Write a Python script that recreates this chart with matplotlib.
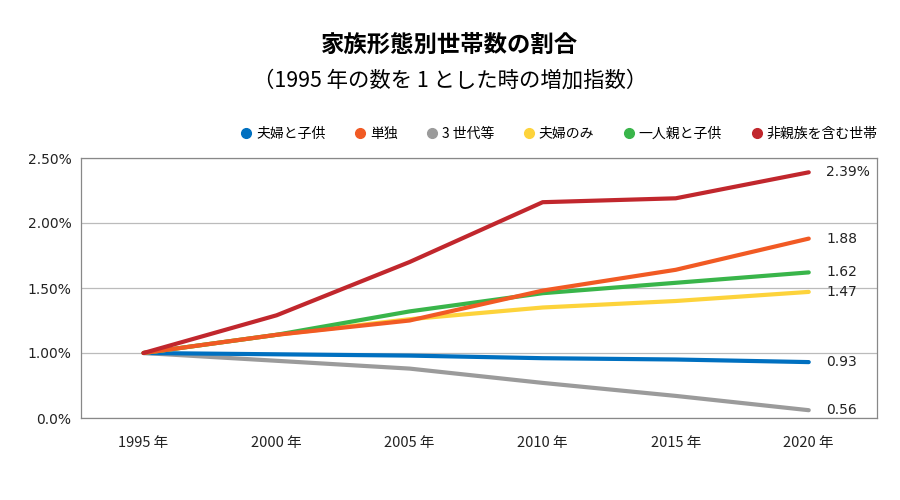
import matplotlib
matplotlib.use('Agg')
import matplotlib.pyplot as plt
from matplotlib.lines import Line2D

plt.rcParams['font.family'] = ['Noto Sans CJK JP', 'DejaVu Sans']

# data
years = ['1995 年', '2000 年', '2005 年', '2010 年', '2015 年', '2020 年']
couple_kids = [1.00, 0.99, 0.98, 0.96, 0.95, 0.93]
single = [1.00, 1.14, 1.25, 1.48, 1.64, 1.88]
three_gen = [1.00, 0.94, 0.88, 0.77, 0.67, 0.56]
couple_only = [1.00, 1.14, 1.26, 1.35, 1.40, 1.47]
single_parent = [1.00, 1.14, 1.32, 1.46, 1.54, 1.62]
non_relatives = [1.00, 1.29, 1.70, 2.16, 2.19, 2.39]

names = ['夫婦と子供', '単独', '3 世代等', '夫婦のみ', '一人親と子供', '非親族を含む世帯']
end_labels = ['0.93', '1.88', '0.56', '1.47', '1.62', '2.39%']
colors = ['#0070c0', '#f15a24', '#9b9b9b', '#fdd33b', '#39b54a', '#c1272d']

y_ticks = [0.5, 1.0, 1.5, 2.0, 2.5]
y_tick_labels = ['0.0%', '1.00%', '1.50%', '2.00%', '2.50%']

series = [couple_kids, single, three_gen, couple_only, single_parent, non_relatives]
draw_order = [2, 0, 3, 4, 1, 5]

fig = plt.figure(figsize=(9, 5), dpi=100)
ax = fig.add_axes([0.09, 0.164, 0.884, 0.52])

x = list(range(len(years)))
for i in draw_order:
    ax.plot(x, series[i], color=colors[i], lw=3.0, solid_capstyle='round', zorder=3)

for i, s in enumerate(series):
    ax.text(5.13, s[-1], end_labels[i], va='center', ha='left', fontsize=10,
            color='#222222', family='DejaVu Sans')

ax.set_xlim(-0.47, 5.51)
ax.set_ylim(0.5, 2.5)
ax.set_yticks(y_ticks)
ax.set_yticklabels(y_tick_labels, family='DejaVu Sans', fontsize=10)
ax.set_xticks(x)
ax.set_xticklabels(years, fontsize=10.5)
ax.tick_params(length=0, colors='#222222')
ax.tick_params(axis='x', pad=13)
ax.tick_params(axis='y', pad=7)
ax.grid(axis='y', color='#bbbbbb', lw=0.9)
for sp in ax.spines.values():
    sp.set_color('#888888')
    sp.set_linewidth(0.9)

handles = [Line2D([], [], marker='o', ls='', color=c, markersize=7) for c in colors]
fig.legend(handles, names, loc='center right', bbox_to_anchor=(0.975, 0.732), ncol=6,
           frameon=False, fontsize=10, handlelength=0.8, handletextpad=0.3,
           columnspacing=2.1, borderpad=0, borderaxespad=0)

fig.text(0.5, 0.91, '家族形態別世帯数の割合', ha='center', va='center',
         fontsize=16.8, fontweight='bold')
fig.text(0.5, 0.838, '（1995 年の数を 1 とした時の増加指数）', ha='center', va='center',
         fontsize=15.4)

fig.savefig('out.png', dpi=100)
